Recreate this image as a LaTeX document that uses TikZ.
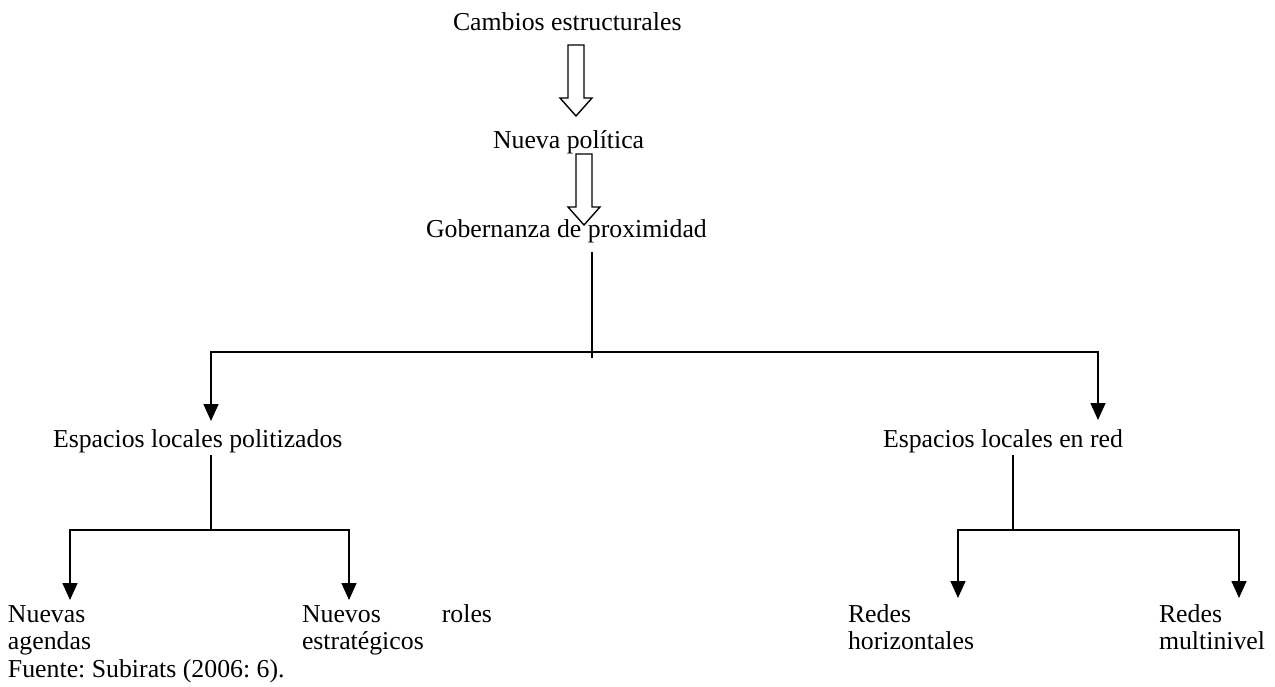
\documentclass[tikz,border=0pt]{standalone}
\usepackage{fontspec}
\setmainfont{Liberation Serif}
\usetikzlibrary{arrows.meta}
\frenchspacing
\begin{document}
\begin{tikzpicture}[x=1pt,y=-1pt,
  every node/.style={inner sep=0pt, outer sep=0pt, font=\fontsize{25.8}{27.5}\selectfont},
  lbl/.style={anchor=base west, align=left},
  conn/.style={line width=1.6pt},
  arr/.style={conn, -{Triangle[width=15pt,length=17pt]}},
  hollow/.style={line width=1.4pt, fill=white, line join=miter}]
\useasboundingbox (0,0) rectangle (1275,687);
% texts
\node[lbl] (cam) at (453,31) {Cambios estructurales};
\node[lbl] (nue) at (493,149) {Nueva política};
\node[lbl] (gob) at (426,238) {Gobernanza de proximidad};
\node[lbl] (epo) at (53,447) {Espacios locales politizados};
\node[lbl] (ere) at (883,447) {Espacios locales en red};
\node[lbl, text width=150pt] (nag) at (8,622) {Nuevas\\agendas};
\node[lbl, text width=190pt] (nro) at (302,622) {Nuevos\hfill roles\\estratégicos};
\node[lbl, text width=150pt] (rho) at (848,622) {Redes\\horizontales};
\node[lbl, text width=110pt] (rmu) at (1159,622) {Redes\\multinivel};
\node[lbl] (fue) at (8,677) {Fuente: Subirats (2006: 6).};
% hollow block arrows
\coordinate (h1) at (576,45);
\coordinate (h2) at (584,154);
\draw[hollow] (h1) ++(-8,0) -- ++(16,0) -- ++(0,53) -- ++(8,0) -- ++(-16,18) -- ++(-16,-18) -- ++(8,0) -- cycle;
\draw[hollow] (h2) ++(-8,0) -- ++(16,0) -- ++(0,53) -- ++(8,0) -- ++(-16,18) -- ++(-16,-18) -- ++(8,0) -- cycle;
% tree
\coordinate (g0) at (592,252);
\coordinate (gj) at (592,352);
\coordinate (g1) at (592,358);
\coordinate (t1) at (211,421);
\coordinate (t2) at (1098,420);
\draw[conn] (g0) -- (g1);
\draw[arr] (gj) -| (t1);
\draw[arr] (gj) -| (t2);
\coordinate (l0) at (211,455);
\coordinate (lj) at (211,530);
\coordinate (la) at (70,600);
\coordinate (lb) at (349,600);
\draw[conn] (l0) -- (lj);
\draw[arr] (lj) -| (la);
\draw[arr] (lj) -| (lb);
\coordinate (r0) at (1013,455);
\coordinate (rj) at (1013,530);
\coordinate (ra) at (958,598);
\coordinate (rb) at (1239,598);
\draw[conn] (r0) -- (rj);
\draw[arr] (rj) -| (ra);
\draw[arr] (rj) -| (rb);
\end{tikzpicture}
\end{document}
